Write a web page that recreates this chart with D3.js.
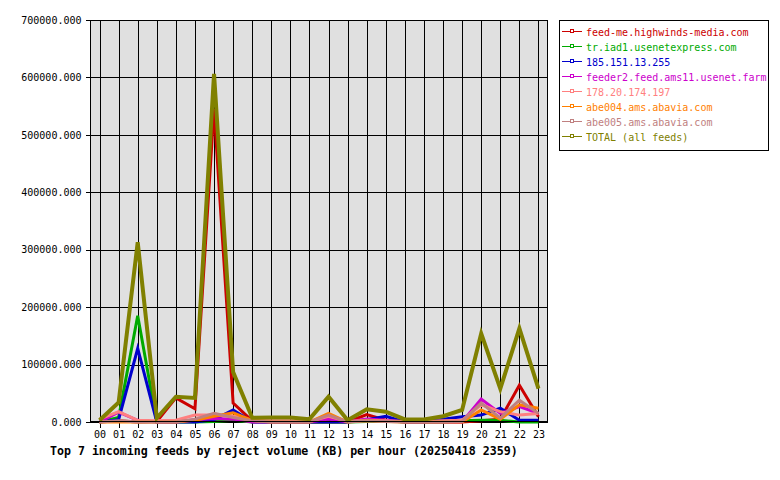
<!DOCTYPE html>
<html><head><meta charset="utf-8">
<script src="https://cdn.jsdelivr.net/npm/d3@7/dist/d3.min.js"></script>
<style>body{margin:0;background:#fff}svg{display:block}</style>
</head><body><svg id="c" width="780" height="480"></svg>
<script>
const hours = ["00","01","02","03","04","05","06","07","08","09","10","11","12","13","14","15","16","17","18","19","20","21","22","23"];
const yTicks = [0,100000,200000,300000,400000,500000,600000,700000];
const seriesNames = ["feed-me.highwinds-media.com","tr.iad1.usenetexpress.com","185.151.13.255","feeder2.feed.ams11.usenet.farm","178.20.174.197","abe004.ams.abavia.com","abe005.ams.abavia.com","TOTAL (all feeds)"];
const seriesColors = ["#cc0000","#00aa00","#0000cc","#cc00cc","#ff8080","#ff8000","#c08080","#808000"];
const sHighwinds = [0,2000,0,1000,42000,23000,545000,33000,2000,0,0,0,0,0,13000,3000,0,0,0,0,2000,5000,64000,9000];
const sIad1      = [0,8000,185000,0,0,0,1000,3000,0,0,0,0,0,0,1000,2000,0,0,0,2000,3000,3000,0,0];
const s185       = [0,4000,128000,0,0,0,4000,21000,0,0,0,0,0,0,4000,10000,0,0,5000,9000,12000,24000,3000,3000];
const sFeeder2   = [0,17000,3000,0,0,4000,6000,5000,0,0,0,0,5000,0,5000,3000,0,0,0,0,40000,15000,27000,15000];
const s178       = [5000,18000,3000,2000,3000,12000,12000,10000,3000,2000,2000,1000,10000,1000,3000,2000,1000,1000,2000,3000,30000,18000,12000,15000];
const sAbe004    = [0,0,0,0,0,3000,10000,16000,3000,0,0,0,15000,0,2000,1000,0,0,0,0,21000,5000,30000,24000];
const sAbe005    = [0,2000,0,0,0,5000,15000,8000,2000,0,0,0,12000,0,2000,1000,0,0,0,1000,33000,7000,38000,15000];
const sTotal     = [3000,34000,313000,7000,44000,42000,606000,87000,7500,8000,8000,5000,44000,3000,22000,18000,4500,4500,10000,21000,154000,58000,163000,58000];
const seriesValues = [sHighwinds,sIad1,s185,sFeeder2,s178,sAbe004,sAbe005,sTotal];

const svg = d3.select("#c");
const L=90,R=548,T=20,B=422;
const x = d3.scalePoint().domain(hours).range([L,R]).padding(0.5);
const y = d3.scaleLinear().domain([0,700000]).range([B,T]);
const mono = "'DejaVu Sans Mono', 'Liberation Mono', monospace";

svg.append("rect").attr("x",L).attr("y",T).attr("width",R-L).attr("height",B-T).attr("fill","#e0e0e0");
const g = svg.append("g").attr("shape-rendering","crispEdges");
g.selectAll(".hg").data(yTicks).join("line").attr("x1",L).attr("x2",R)
 .attr("y1",d=>Math.round(y(d))+0.5).attr("y2",d=>Math.round(y(d))+0.5).attr("stroke","#000");
g.selectAll(".vg").data(hours).join("line").attr("y1",T).attr("y2",B)
 .attr("x1",d=>Math.round(x(d))+0.5).attr("x2",d=>Math.round(x(d))+0.5).attr("stroke","#000");

// y axis
const ya = svg.append("g").attr("transform",`translate(${L+0.5},0)`)
 .call(d3.axisLeft(y).tickValues(yTicks).tickFormat(d3.format(".3f")).tickSize(5).tickSizeOuter(0));
ya.select(".domain").remove();
ya.selectAll("line").attr("stroke","#000").attr("shape-rendering","crispEdges");
ya.selectAll("text").attr("font-family",mono).attr("font-size","10px").attr("fill","#000").attr("x",-9);
// x axis
const xa = svg.append("g").attr("transform",`translate(0,${B+0.5})`)
 .call(d3.axisBottom(x).tickSize(5).tickSizeOuter(0));
xa.select(".domain").remove();
xa.selectAll("line").attr("stroke","#000").attr("shape-rendering","crispEdges");
xa.selectAll("text").attr("font-family",mono).attr("font-size","10px").attr("fill","#000").attr("dy","0.6em").attr("y",9);

// lines
const line = d3.line().x((d,i)=>x(hours[i])).y(d=>y(d));
seriesValues.forEach((vals,k)=>{
  svg.append("path").datum(vals).attr("d",line).attr("fill","none")
   .attr("stroke",seriesColors[k]).attr("stroke-width",k===7?4:3)
   .attr("stroke-linejoin","miter");
});
svg.append("rect").attr("x",L+0.5).attr("y",T+0.5).attr("width",R-L-1).attr("height",B-T-1)
 .attr("fill","none").attr("stroke","#000").attr("shape-rendering","crispEdges");

// title
svg.append("text").attr("x",50).attr("y",455).attr("font-family",mono).attr("font-weight","bold")
 .attr("font-size","11.6px").attr("fill","#000")
 .text("Top 7 incoming feeds by reject volume (KB) per hour (20250418 2359)");

// legend
const lg = svg.append("g");
lg.append("rect").attr("x",559.5).attr("y",20.5).attr("width",209).attr("height",130)
 .attr("fill","#fff").attr("stroke","#000").attr("shape-rendering","crispEdges");
seriesNames.forEach((n,k)=>{
  const yy = 31 + k*15;
  lg.append("line").attr("x1",562).attr("x2",582).attr("y1",yy+0.5).attr("y2",yy+0.5)
    .attr("stroke",seriesColors[k]).attr("shape-rendering","crispEdges");
  lg.append("rect").attr("x",570.5).attr("y",yy-1.5).attr("width",3).attr("height",3)
    .attr("fill","#fff").attr("stroke",seriesColors[k]).attr("shape-rendering","crispEdges");
  lg.append("text").attr("x",586).attr("y",yy+5).attr("font-family",mono).attr("font-size","10px")
    .attr("fill",seriesColors[k]).text(n);
});
</script></body></html>
